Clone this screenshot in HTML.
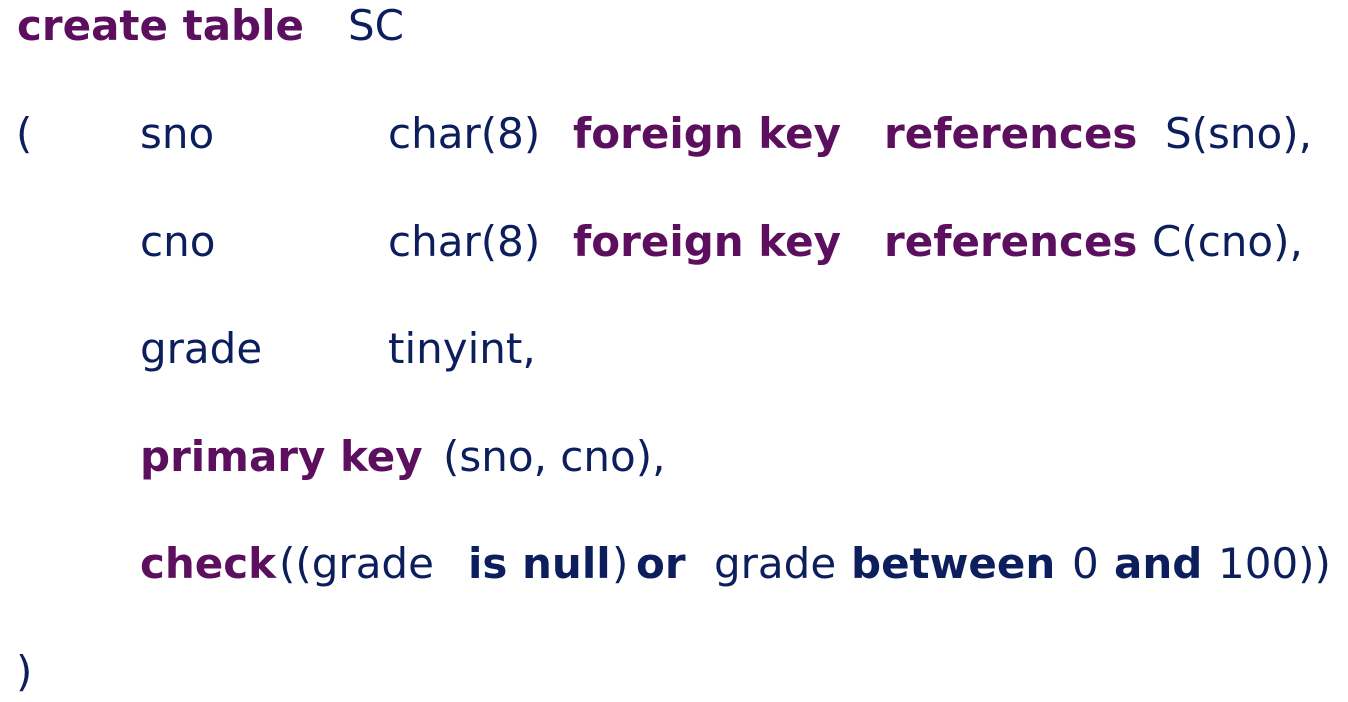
<!DOCTYPE html>
<html><head><meta charset="utf-8"><style>
body{margin:0;width:1348px;height:702px;background:#fff;position:relative;overflow:hidden;font-family:"DejaVu Sans","Liberation Sans",sans-serif;font-size:42px;color:#0c1f5c}
span{position:absolute;white-space:pre;line-height:1}
.p{color:#5c0f5e;font-weight:bold}
.b{font-weight:bold}
</style></head><body>
<span class="p" style="left:17px;top:5px">create table</span>
<span style="left:348px;top:5px">SC</span>

<span style="left:16px;top:113px">(</span>
<span style="left:140px;top:113px">sno</span>
<span style="left:388px;top:113px">char(8)</span>
<span class="p" style="left:573px;top:113px">foreign key</span>
<span class="p" style="left:884px;top:113px">references</span>
<span style="left:1165px;top:113px">S(sno),</span>

<span style="left:140px;top:221px">cno</span>
<span style="left:388px;top:221px">char(8)</span>
<span class="p" style="left:573px;top:221px">foreign key</span>
<span class="p" style="left:884px;top:221px">references</span>
<span style="left:1152px;top:221px">C(cno),</span>

<span style="left:140px;top:328px">grade</span>
<span style="left:388px;top:328px">tinyint,</span>

<span class="p" style="left:140px;top:436px">primary key</span>
<span style="left:443px;top:436px">(sno, cno),</span>

<span class="p" style="left:140px;top:543px">check</span>
<span style="left:279px;top:543px">((grade</span>
<span class="b" style="left:468px;top:543px">is null</span>
<span style="left:612px;top:543px">)</span>
<span class="b" style="left:636px;top:543px">or</span>
<span style="left:714px;top:543px">grade</span>
<span class="b" style="left:851px;top:543px">between</span>
<span style="left:1072px;top:543px">0</span>
<span class="b" style="left:1114px;top:543px">and</span>
<span style="left:1218px;top:543px">100))</span>

<span style="left:16px;top:651px">)</span>
</body></html>
